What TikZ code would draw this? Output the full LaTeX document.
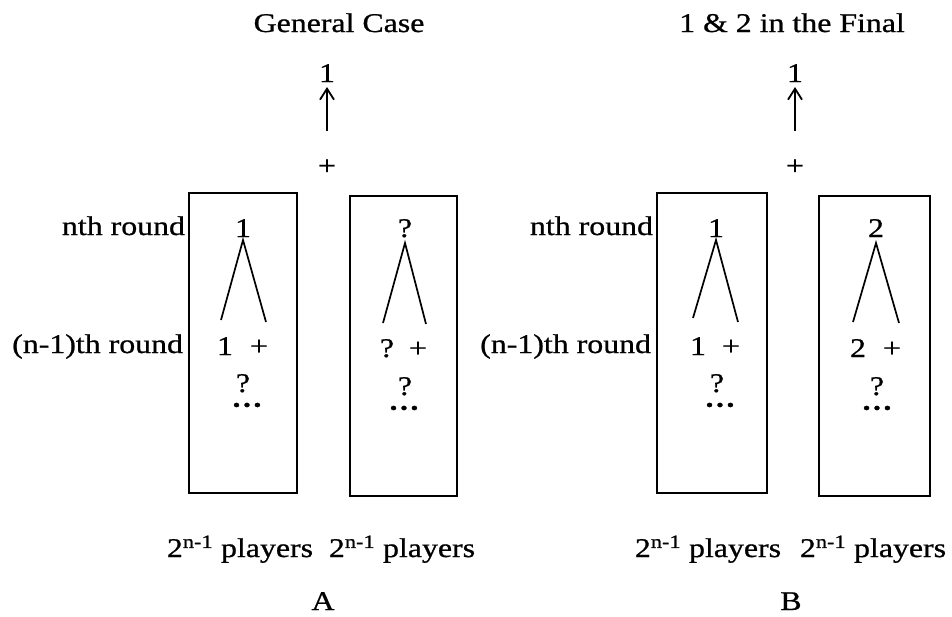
\documentclass[tikz,border=0pt]{standalone}
\usepackage{fontspec}
\setmainfont[FakeStretch=1.18, FakeBold=0.8]{Liberation Serif}
\usetikzlibrary{arrows.meta}
\tikzset{
  txt/.style={inner sep=0pt, outer sep=0pt, anchor=base},
  dots/.style={inner sep=0pt, outer sep=0pt, font=\fontsize{27}{32}\selectfont\bfseries},
  box/.style={draw, line width=1.7pt},
  leg/.style={line width=1.7pt},
  win/.style={line width=1.8pt, shorten >=5pt, -{Straight Barb[length=11pt, width=14pt, line width=1.8pt]}}
}
\newcommand\moredots{.\kern2.5pt.\kern2.5pt.}
\begin{document}
\begin{tikzpicture}[x=1pt, y=-1pt, font=\fontsize{27}{32}\selectfont]
\useasboundingbox (0,0) rectangle (952,616);
\newcommand\XA{0}
\newcommand\XB{468}

% panel A: general case
\node[txt] (Atitle) at (\XA+339,32) {General Case};
\node[txt] (Awin) at (\XA+327,82) {1};
\coordinate (Atail) at (\XA+327,131);
\node[inner sep=0pt] (Aplus) at (\XA+327,167) {+};
\draw[box] (\XA+189,193) rectangle (\XA+297,493);
\draw[box] (\XA+350,196) rectangle (\XA+457,496);
\node[txt, anchor=base east] (Anth) at (\XA+185,235) {nth round};
\node[txt, anchor=base east] (Aprev) at (\XA+183,353) {(n-1)th round};
\node[txt] (AL) at (\XA+243,237) {1};
\node[txt] (ALa) at (\XA+225,355) {1};
\node[txt] (ALb) at (\XA+259,355) {+};
\node[txt] (ALq) at (\XA+243,392) {?};
\node[dots] (ALd) at (\XA+247,405) {\moredots};
\node[txt] (AR) at (\XA+405,237) {?};
\node[txt] (ARa) at (\XA+387,357) {?};
\node[txt] (ARb) at (\XA+418,357) {+};
\node[txt] (ARq) at (\XA+405,395) {?};
\node[dots] (ARd) at (\XA+404,408) {\moredots};
\node[txt] (Apl1) at (\XA+240,557) {2\textsuperscript{n-1} players};
\node[txt] (Apl2) at (\XA+402,557) {2\textsuperscript{n-1} players};
\node[txt] (Aname) at (\XA+323,610) {A};
\coordinate (ALx1) at (\XA+221,320);
\coordinate (ALx2) at (\XA+266,322);
\coordinate (ARx1) at (\XA+383,323);
\coordinate (ARx2) at (\XA+426,324);

\draw[win] (Atail) -- (Awin.south);
\draw[leg] (ALx1) -- ([yshift=-3pt]AL.base) -- (ALx2);
\draw[leg] (ARx1) -- ([yshift=-6pt]AR.base) -- (ARx2);

% panel B: 1 & 2 in the final
\node[txt] (Btitle) at (\XB+324,32) {1 \& 2 in the Final};
\node[txt] (Bwin) at (\XB+327,82) {1};
\coordinate (Btail) at (\XB+327,131);
\node[inner sep=0pt] (Bplus) at (\XB+327,167) {+};
\draw[box] (\XB+189,193) rectangle (\XB+299,493);
\draw[box] (\XB+351,196) rectangle (\XB+462,496);
\node[txt, anchor=base east] (Bnth) at (\XB+185,235) {nth round};
\node[txt, anchor=base east] (Bprev) at (\XB+183,353) {(n-1)th round};
\node[txt] (BL) at (\XB+248,237) {1};
\node[txt] (BLa) at (\XB+230,355) {1};
\node[txt] (BLb) at (\XB+263,355) {+};
\node[txt] (BLq) at (\XB+249,392) {?};
\node[dots] (BLd) at (\XB+252,405) {\moredots};
\node[txt] (BR) at (\XB+408,237) {2};
\node[txt] (BRa) at (\XB+390,357) {2};
\node[txt] (BRb) at (\XB+424,357) {+};
\node[txt] (BRq) at (\XB+409,395) {?};
\node[dots] (BRd) at (\XB+409,408) {\moredots};
\node[txt] (Bpl1) at (\XB+240,557) {2\textsuperscript{n-1} players};
\node[txt] (Bpl2) at (\XB+405,557) {2\textsuperscript{n-1} players};
\node[txt] (Bname) at (\XB+323,610) {B};
\coordinate (BLx1) at (\XB+225,318);
\coordinate (BLx2) at (\XB+270,322);
\coordinate (BRx1) at (\XB+385,322);
\coordinate (BRx2) at (\XB+431,323);

\draw[win] (Btail) -- (Bwin.south);
\draw[leg] (BLx1) -- ([yshift=-3pt]BL.base) -- (BLx2);
\draw[leg] (BRx1) -- ([yshift=-6pt]BR.base) -- (BRx2);
\end{tikzpicture}
\end{document}
